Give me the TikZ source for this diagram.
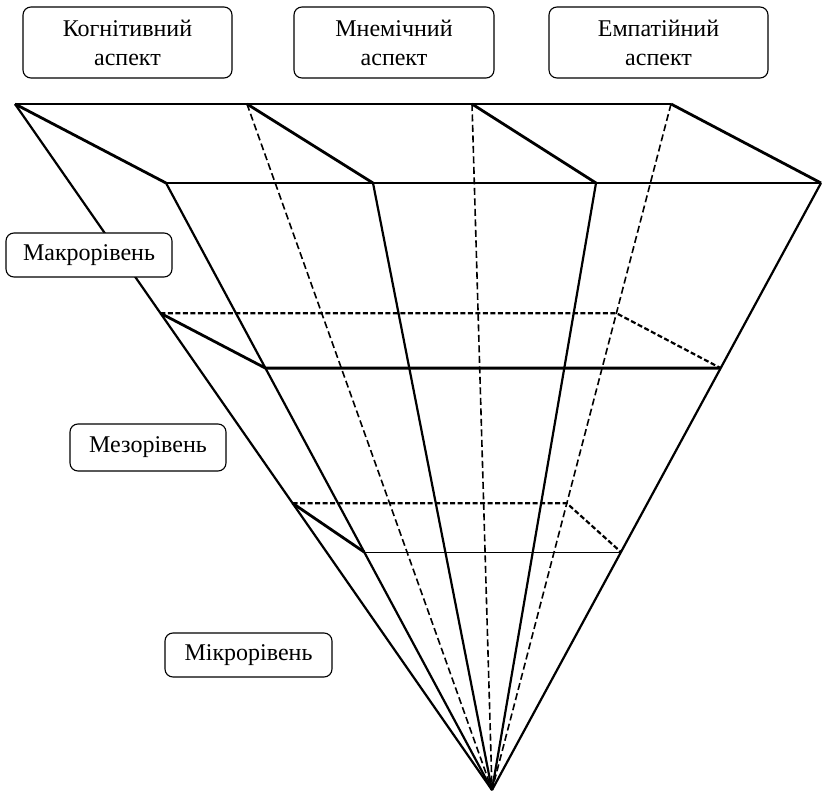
\documentclass[tikz,border=0pt]{standalone}
\usepackage{fontspec}
\setmainfont{Liberation Serif}
\usetikzlibrary{calc}

\begin{document}
\begin{tikzpicture}[x=1pt, y=-1pt,
    box/.style={draw, fill=white, rounded corners=8pt, line width=1.1pt, align=center, inner sep=0pt, font=\fontsize{24}{29}\selectfont},
    thickln/.style={line width=2.8pt, line join=round},
    rayln/.style={line width=2.2pt},
    thinln/.style={line width=1pt},
    hidln/.style={line width=1.6pt, dash pattern=on 7pt off 3.5pt},
    cutln/.style={line width=2.2pt, dash pattern=on 5pt off 2.5pt}
]
\useasboundingbox (0,0) rectangle (824,794);

\coordinate (b0) at (15,104);
\coordinate (b1) at (247,104);
\coordinate (b2) at (472,104);
\coordinate (b3) at (671,104);
\coordinate (f0) at (166,183);
\coordinate (f1) at (373,183);
\coordinate (f2) at (596,183);
\coordinate (f3) at (821,183);
\coordinate (apex) at (492,790);

\coordinate (m0) at ($(b0)!0.305!(apex)$);
\coordinate (m3) at ($(b3)!0.305!(apex)$);
\coordinate (n0) at ($(f0)!0.305!(apex)$);
\coordinate (n3) at ($(f3)!0.305!(apex)$);
\coordinate (p0) at ($(b0)!0.582!(apex)$);
\coordinate (p3) at ($(b3)!0.582!(apex)$);
\coordinate (q0) at ($(f0)!0.608!(apex)$);
\coordinate (q3) at ($(f3)!0.608!(apex)$);

\foreach \c in {b1,b2,b3} \draw[hidln] (\c) -- (apex);
\foreach \c in {b0,f0,f1,f2,f3} \draw[rayln] (\c) -- (apex);

\draw[thickln] (b0) -- (b3);
\draw[thickln] (f0) -- (f3);
\foreach \i in {0,1,2,3} \draw[thickln] (b\i) -- (f\i);

\draw[cutln] (m0) -- (m3) -- (n3);
\draw[thickln] (m0) -- (n0) -- (n3);
\draw[cutln] (p0) -- (p3) -- (q3);
\draw[thickln] (p0) -- (q0);
\draw[thinln] (q0) -- (q3);

\node[box, minimum width=209pt, minimum height=71pt] (kognit) at (127.5,42.5) {Когнітивний\\аспект};
\node[box, minimum width=200pt, minimum height=71pt] (mnem) at (394,42.5) {Мнемічний\\аспект};
\node[box, minimum width=219pt, minimum height=71pt] (empat) at (658.5,42.5) {Емпатійний\\аспект};

\node[box, minimum width=166pt, minimum height=44pt] (makro) at (89,255) {Макрорівень};
\node[box, minimum width=156pt, minimum height=47pt] (mezo) at (148,447.5) {Мезорівень};
\node[box, minimum width=167pt, minimum height=44pt] (mikro) at (248.5,655) {Мікрорівень};
\end{tikzpicture}
\end{document}
